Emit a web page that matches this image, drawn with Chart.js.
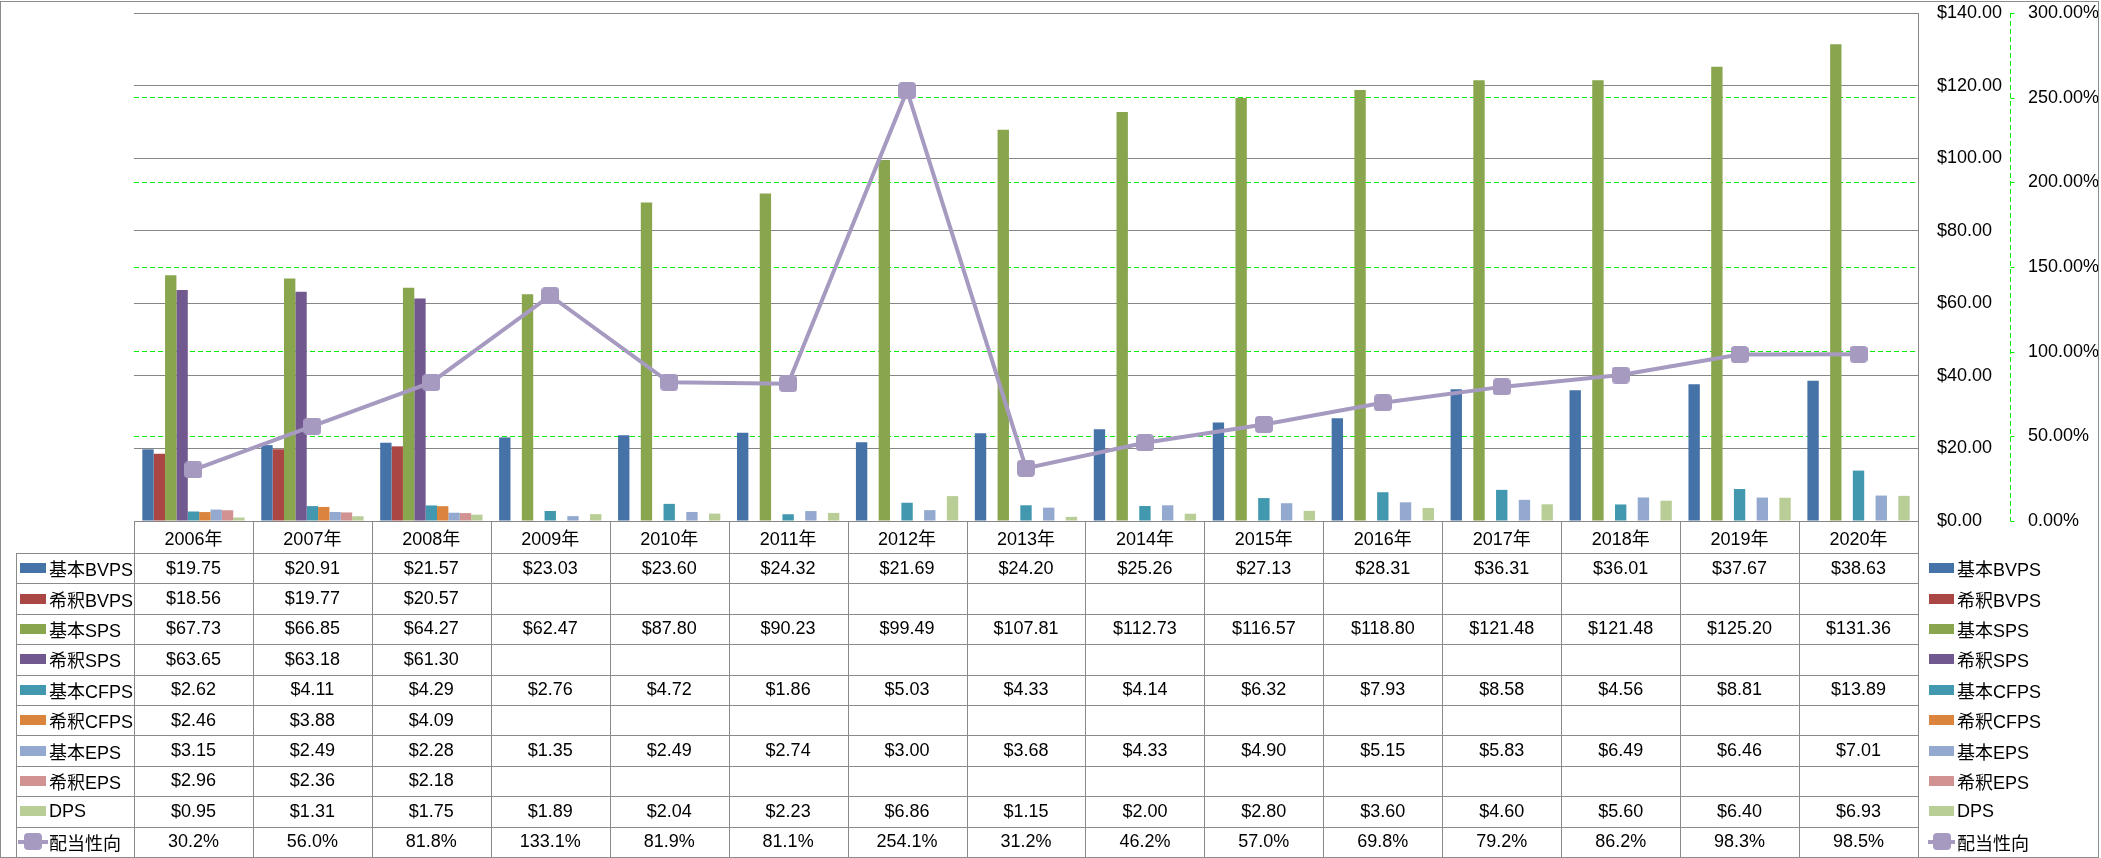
<!DOCTYPE html>
<html>
<head>
<meta charset="utf-8">
<script src="https://cdn.jsdelivr.net/npm/chart.js@4.4.0/dist/chart.umd.min.js"></script>
<style>
  html, body { margin: 0; padding: 0; background: #fff; }
  #wrap { position: relative; width: 2101px; height: 858px; overflow: hidden;
          font-family: "Liberation Sans", "Noto Sans CJK JP", sans-serif; font-size: 18px; color: #000; }
  #chart { position: absolute; left: 0; top: 0; }
  #frame { position: absolute; left: 0; top: 1px; width: 2097px; height: 855px; border: 1px solid #8c8c8c; pointer-events: none; }
  .hl { position: absolute; height: 1px; background: #8a8a8a; }
  .vl { position: absolute; width: 1px; background: #8a8a8a; }
  .cell { position: absolute; display: flex; align-items: center; justify-content: center; white-space: nowrap; }
  .lab { position: absolute; display: flex; align-items: center; white-space: nowrap; }
  .key { position: absolute; height: 10px; }
  .lkey { position: absolute; height: 4px; }
  .mk { position: absolute; width: 18px; height: 17px; border-radius: 4px; }
</style>
</head>
<body>
<div id="wrap">
  <canvas id="chart" width="2101" height="858"></canvas>
  <div id="table"></div>
  <div id="frame"></div>
</div>
<script>
const FONT = '"Liberation Sans", "Noto Sans CJK JP", sans-serif';

const years = ['2006年','2007年','2008年','2009年','2010年','2011年','2012年','2013年','2014年','2015年','2016年','2017年','2018年','2019年','2020年'];

const bvpsBasic   = [19.75, 20.91, 21.57, 23.03, 23.60, 24.32, 21.69, 24.20, 25.26, 27.13, 28.31, 36.31, 36.01, 37.67, 38.63];
const bvpsDiluted = [18.56, 19.77, 20.57, null, null, null, null, null, null, null, null, null, null, null, null];
const spsBasic    = [67.73, 66.85, 64.27, 62.47, 87.80, 90.23, 99.49, 107.81, 112.73, 116.57, 118.80, 121.48, 121.48, 125.20, 131.36];
const spsDiluted  = [63.65, 63.18, 61.30, null, null, null, null, null, null, null, null, null, null, null, null];
const cfpsBasic   = [2.62, 4.11, 4.29, 2.76, 4.72, 1.86, 5.03, 4.33, 4.14, 6.32, 7.93, 8.58, 4.56, 8.81, 13.89];
const cfpsDiluted = [2.46, 3.88, 4.09, null, null, null, null, null, null, null, null, null, null, null, null];
const epsBasic    = [3.15, 2.49, 2.28, 1.35, 2.49, 2.74, 3.00, 3.68, 4.33, 4.90, 5.15, 5.83, 6.49, 6.46, 7.01];
const epsDiluted  = [2.96, 2.36, 2.18, null, null, null, null, null, null, null, null, null, null, null, null];
const dps         = [0.95, 1.31, 1.75, 1.89, 2.04, 2.23, 6.86, 1.15, 2.00, 2.80, 3.60, 4.60, 5.60, 6.40, 6.93];
const payoutRatio = [30.2, 56.0, 81.8, 133.1, 81.9, 81.1, 254.1, 31.2, 46.2, 57.0, 69.8, 79.2, 86.2, 98.3, 98.5];

const barNames  = ['基本BVPS','希釈BVPS','基本SPS','希釈SPS','基本CFPS','希釈CFPS','基本EPS','希釈EPS','DPS'];
const barSeries = [bvpsBasic, bvpsDiluted, spsBasic, spsDiluted, cfpsBasic, cfpsDiluted, epsBasic, epsDiluted, dps];
const barColors = ['#4572A7','#AA4643','#89A54E','#71588F','#4198AF','#DB843D','#93A9CF','#D19392','#B9CD96'];
const lineName  = '配当性向';
const lineColor = '#A79AC1';

const dollarTicks  = [0, 20, 40, 60, 80, 100, 120, 140];
const percentTicks = [0, 50, 100, 150, 200, 250, 300];

// wanted plot box
const PLOT = { left: 134, top: 13, bottom: 521 };
const GREEN = '#00ee00';

// rounded square marker for the payout line
const marker = document.createElement('canvas');
marker.width = 18; marker.height = 17;
(function(){
  const g = marker.getContext('2d');
  g.fillStyle = lineColor;
  g.beginPath();
  g.roundRect(0, 0, 18, 17, 4);
  g.fill();
})();

const fmtDollar = v => '$' + v.toFixed(2);
const fmtPct = v => v.toFixed(1) + '%';

const datasets = [{
  type: 'line', label: lineName, data: payoutRatio, yAxisID: 'y2', order: 0,
  borderColor: lineColor, borderWidth: 4, tension: 0,
  pointStyle: marker, pointRadius: 9, pointHoverRadius: 9
}];
barSeries.forEach((d, i) => datasets.push({
  type: 'bar', label: barNames[i], data: d, yAxisID: 'y', order: 1,
  backgroundColor: barColors[i], borderWidth: 0,
  categoryPercentage: 0.86, barPercentage: 1.0
}));

// dashed green axis line of the percent scale, with short tick marks
const dashedAxis = {
  id: 'dashedAxis',
  afterDraw(chart) {
    const s = chart.scales.y2, ctx = chart.ctx;
    const x = Math.round(s.left) + 0.5;
    ctx.save();
    ctx.strokeStyle = GREEN;
    ctx.lineWidth = 1;
    ctx.setLineDash([5, 3]);
    ctx.beginPath();
    ctx.moveTo(x, s.top);
    ctx.lineTo(x, s.bottom);
    ctx.stroke();
    ctx.setLineDash([]);
    ctx.beginPath();
    percentTicks.forEach(v => {
      const y = Math.round(s.getPixelForValue(v)) + 0.5;
      ctx.moveTo(x, y);
      ctx.lineTo(x + 4, y);
    });
    ctx.stroke();
    ctx.restore();
  }
};

const chart = new Chart(document.getElementById('chart'), {
  data: { labels: years, datasets },
  options: {
    responsive: false,
    animation: false,
    devicePixelRatio: 1,
    layout: { padding: { left: PLOT.left, top: PLOT.top, right: 0, bottom: 858 - PLOT.bottom } },
    plugins: { legend: { display: false }, tooltip: { enabled: false } },
    scales: {
      x: { display: false, offset: true },
      y: {
        position: 'right', min: 0, max: 140,
        afterBuildTicks: s => { s.ticks = dollarTicks.map(v => ({ value: v })); },
        afterFit: s => { s.width = 92; },
        ticks: { padding: 0, color: '#000', font: { family: FONT, size: 18 }, callback: v => fmtDollar(v) },
        grid: { color: '#868686', lineWidth: 1, drawTicks: true, tickLength: 19, tickColor: 'rgba(0,0,0,0)' },
        border: { display: true, color: '#868686' }
      },
      y2: {
        position: 'right', min: 0, max: 300,
        afterBuildTicks: s => { s.ticks = percentTicks.map(v => ({ value: v })); },
        afterFit: s => { s.width = 91; },
        ticks: { padding: 0, color: '#000', font: { family: FONT, size: 18 }, callback: v => v.toFixed(2) + '%' },
        grid: {
          color: c => (c.tick && (c.tick.value === 0 || c.tick.value === 300)) ? 'rgba(0,0,0,0)' : GREEN,
          lineWidth: 1, drawTicks: true, tickLength: 18, tickColor: 'rgba(0,0,0,0)'
        },
        border: { display: false, dash: [5, 3] }
      }
    }
  },
  plugins: [dashedAxis]
});

// data table under the plot
const area = chart.chartArea;
const colW = (area.right - area.left) / years.length;
const headTop = area.bottom, headH = 32;
const rowH = 30.4, rowTop0 = headTop + headH;
const legLeft = 16, rightLegX = Math.round(area.right) + 11;
const tbl = document.getElementById('table');

function add(cls, css, text) {
  const d = document.createElement('div');
  d.className = cls;
  Object.assign(d.style, css);
  if (text !== undefined) d.textContent = text;
  tbl.appendChild(d);
  return d;
}

const rows = barSeries.map((d, i) => ({ name: barNames[i], color: barColors[i], vals: d.map(v => v == null ? '' : fmtDollar(v)), line: false }));
rows.push({ name: lineName, color: lineColor, vals: payoutRatio.map(fmtPct), line: true });

// header cells
years.forEach((y, i) => add('cell', { left: (area.left + i * colW) + 'px', top: headTop + 'px', width: colW + 'px', height: headH + 'px' }, y));

rows.forEach((r, k) => {
  const top = rowTop0 + k * rowH;
  r.vals.forEach((t, i) => add('cell', { left: (area.left + i * colW) + 'px', top: top + 'px', width: colW + 'px', height: rowH + 'px' }, t));
  add('lab', { left: '49px', top: top + 'px', height: rowH + 'px' }, r.name);
  add('lab', { left: (rightLegX + 28) + 'px', top: top + 'px', height: rowH + 'px' }, r.name);
  const cy = top + rowH / 2;
  if (r.line) {
    add('lkey', { left: '18px', width: '30px', top: (cy - 2) + 'px', background: r.color });
    add('mk', { left: '24px', top: (cy - 8.5) + 'px', background: r.color });
    add('lkey', { left: (rightLegX - 1) + 'px', width: '27px', top: (cy - 2) + 'px', background: r.color });
    add('mk', { left: (rightLegX + 4) + 'px', top: (cy - 8.5) + 'px', background: r.color });
  } else {
    add('key', { left: '20px', width: '26px', top: (cy - 5) + 'px', background: r.color });
    add('key', { left: rightLegX + 'px', width: '25px', top: (cy - 5) + 'px', background: r.color });
  }
});

// grid lines of the table
for (let k = 0; k <= rows.length; k++) {
  const y = Math.round(rowTop0 + k * rowH);
  add('hl', { left: legLeft + 'px', top: y + 'px', width: (Math.round(area.right) - legLeft + 1) + 'px' });
}
for (let i = 0; i <= years.length; i++) {
  const x = Math.round(area.left + i * colW);
  add('vl', { left: x + 'px', top: Math.round(headTop) + 'px', height: (857 - Math.round(headTop)) + 'px' });
}
add('vl', { left: legLeft + 'px', top: Math.round(rowTop0) + 'px', height: (857 - Math.round(rowTop0)) + 'px' });
</script>
</body>
</html>
